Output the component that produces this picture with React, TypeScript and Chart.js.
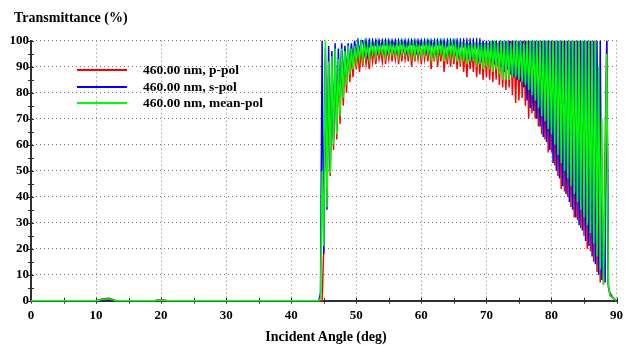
import React, { useEffect, useRef } from 'react';
import { Chart, registerables } from 'chart.js';

Chart.register(...registerables);

// Incident angle (deg) sample positions
const angles = [
  0, 10, 10.5, 11, 12, 12.5, 13, 19, 19.5, 20, 20.5, 21, 44, 44.25,
  44.5, 44.75,
  45, 45.25, 45.5, 45.75, 46, 46.25, 46.5, 46.75, 47, 47.25, 47.5, 47.75,
  48, 48.25, 48.5, 48.75, 49, 49.25, 49.5, 49.75, 50, 50.25, 50.5, 50.75,
  51, 51.25, 51.5, 51.75, 52, 52.25, 52.5, 52.75, 53, 53.25, 53.5, 53.75,
  54, 54.25, 54.5, 54.75, 55, 55.25, 55.5, 55.75, 56, 56.25, 56.5, 56.75,
  57, 57.25, 57.5, 57.75, 58, 58.25, 58.5, 58.75, 59, 59.25, 59.5, 59.75,
  60, 60.25, 60.5, 60.75, 61, 61.25, 61.5, 61.75, 62, 62.25, 62.5, 62.75,
  63, 63.25, 63.5, 63.75, 64, 64.25, 64.5, 64.75, 65, 65.25, 65.5, 65.75,
  66, 66.25, 66.5, 66.75, 67, 67.25, 67.5, 67.75, 68, 68.25, 68.5, 68.75,
  69, 69.25, 69.5, 69.75, 70, 70.25, 70.5, 70.75, 71, 71.25, 71.5, 71.75,
  72, 72.25, 72.5, 72.75, 73, 73.25, 73.5, 73.75, 74, 74.25, 74.5, 74.75,
  75, 75.25, 75.5, 75.75, 76, 76.25, 76.5, 76.75, 77, 77.25, 77.5, 77.75,
  78, 78.25, 78.5, 78.75, 79, 79.25, 79.5, 79.75, 80, 80.25, 80.5, 80.75,
  81, 81.25, 81.5, 81.75, 82, 82.25, 82.5, 82.75, 83, 83.25, 83.5, 83.75,
  84, 84.25, 84.5, 84.75, 85, 85.25, 85.5, 85.75, 86, 86.25, 86.5, 86.75,
  87, 87.25, 87.5, 87.75, 88, 88.25, 88.5, 88.75, 89, 89.25, 89.5, 89.75,
  90,
];

// Transmittance (%), p-polarisation
const pPol = [
  0, 0, 0.3, 0.8, 0.9, 0.6, 0, 0, 0.4, 0.2, 0.3, 0, 0, 0,
  0, 0,
  20, 93, 38, 86, 48, 92, 58, 95, 62, 90, 68, 96,
  75, 94, 80, 97, 84, 95, 86, 97, 89, 96, 88, 97,
  90, 98, 91, 96, 89, 98, 92, 97, 91, 98, 93, 97,
  92, 99, 91, 98, 93, 99, 92, 98, 93, 99, 91, 98,
  92, 99, 93, 98, 92, 99, 90, 98, 92, 99, 93, 98,
  91, 99, 93, 98, 92, 99, 89, 98, 92, 99, 90, 98,
  92, 99, 88, 98, 91, 99, 90, 98, 91, 99, 89, 98,
  90, 99, 88, 98, 86, 99, 89, 98, 88, 99, 86, 98,
  87, 99, 85, 99, 86, 99, 85, 99, 84, 100, 85, 99,
  83, 100, 82, 99, 81, 100, 82, 100, 79, 100, 76, 99,
  77, 100, 78, 100, 75, 100, 70, 100, 72, 100, 70, 100,
  67, 100, 64, 100, 62, 100, 57, 100, 57, 100, 52, 100,
  48, 100, 43, 100, 42, 100, 40, 100, 36, 100, 32, 100,
  31, 100, 28, 100, 25, 100, 20, 100, 19, 100, 15, 100,
  11, 80, 7, 40, 6, 60, 100, 5, 3, 2, 1, 0.5,
  0,
];

// Transmittance (%), s-polarisation
const sPol = [
  0, 0, 0.2, 0.5, 0.6, 0.4, 0, 0, 0, 0, 0, 0, 0, 0,
  3, 100,
  18, 97, 35, 98, 50, 96, 62, 99, 66, 97, 74, 99,
  82, 98, 86, 99, 90, 99, 92, 100, 94, 100, 95, 100,
  100, 96, 100, 95, 100, 96, 100, 97, 100, 96, 100, 97,
  100, 97, 100, 96, 100, 97, 100, 97, 100, 96, 100, 97,
  100, 97, 100, 96, 100, 97, 100, 97, 100, 96, 100, 97,
  100, 97, 100, 96, 100, 97, 100, 97, 100, 96, 100, 97,
  100, 97, 100, 96, 100, 96, 100, 97, 100, 96, 100, 95,
  100, 96, 100, 95, 100, 95, 100, 94, 100, 95, 100, 94,
  100, 94, 100, 93, 100, 93, 100, 92, 100, 91, 100, 92,
  100, 90, 100, 88, 100, 89, 100, 87, 100, 86, 100, 85,
  100, 84, 100, 82, 100, 77, 100, 74, 100, 73, 100, 70,
  100, 67, 100, 63, 100, 61, 100, 58, 100, 53, 100, 50,
  100, 47, 100, 44, 100, 41, 100, 38, 100, 35, 100, 32,
  100, 29, 100, 27, 100, 23, 100, 21, 100, 17, 100, 14,
  100, 10, 100, 8, 30, 7, 100, 6, 2, 1.5, 1, 0.5,
  0,
];

// Transmittance (%), mean polarisation
const meanPol = [
  0, 0, 0.2, 0.6, 0.7, 0.5, 0, 0, 0.2, 0.1, 0.1, 0, 0, 0,
  1, 50,
  21, 100, 36, 92, 49, 94, 60, 97, 64, 93, 71, 97,
  78, 96, 83, 98, 87, 97, 89, 98, 92, 98, 93, 99,
  93, 99, 94, 98, 93, 99, 95, 98, 94, 99, 95, 98,
  95, 99, 94, 99, 95, 99, 95, 98, 95, 99, 94, 99,
  95, 99, 95, 98, 95, 99, 94, 99, 94, 99, 95, 98,
  94, 99, 95, 99, 95, 99, 93, 98, 94, 99, 94, 99,
  95, 99, 92, 98, 94, 99, 94, 99, 94, 99, 92, 98,
  93, 99, 92, 99, 91, 99, 92, 99, 92, 99, 90, 99,
  91, 99, 89, 99, 90, 99, 89, 100, 88, 100, 89, 99,
  87, 100, 85, 100, 85, 100, 85, 99, 86, 100, 86, 100,
  85, 100, 84, 99, 83, 100, 81, 100, 79, 100, 77, 100,
  74, 100, 71, 100, 69, 100, 66, 100, 64, 100, 60, 100,
  56, 100, 53, 100, 50, 100, 47, 100, 44, 100, 41, 100,
  38, 100, 35, 100, 32, 100, 29, 100, 26, 100, 22, 100,
  17, 90, 12, 70, 6, 45, 95, 6, 2, 1.5, 1, 0.5,
  0,
];

const seriesLabels = ['460.00 nm, p-pol', '460.00 nm, s-pol', '460.00 nm, mean-pol'];
const seriesColors = ['#ff0000', '#0000ff', '#00ff00'];
const xMarks = [0, 5, 10, 15, 20, 25, 30, 35, 40, 45, 50, 55, 60, 65, 70, 75, 80, 85, 90];
const yMarks = [0, 5, 10, 15, 20, 25, 30, 35, 40, 45, 50, 55, 60, 65, 70, 75, 80, 85, 90, 95, 100];

const FONT = "'Liberation Serif', 'Times New Roman', serif";

const crossTicks = {
  id: 'crossTicks',
  beforeDatasetsDraw(chart: any) {
    const { ctx, scales, chartArea } = chart;
    const x = scales.x;
    const y = scales.y;
    ctx.save();
    ctx.strokeStyle = '#303030';
    ctx.lineWidth = 1;
    for (const v of xMarks) {
      const px = Math.round(x.getPixelForValue(v)) + 0.5;
      ctx.beginPath();
      ctx.moveTo(px, chartArea.bottom - 3);
      ctx.lineTo(px, chartArea.bottom + 3);
      ctx.stroke();
    }
    for (const v of yMarks) {
      const py = Math.round(y.getPixelForValue(v)) + 0.5;
      ctx.beginPath();
      ctx.moveTo(chartArea.left - 3, py);
      ctx.lineTo(chartArea.left + 3, py);
      ctx.stroke();
    }
    ctx.restore();
  },
};

export default function App() {
  const canvasRef = useRef<HTMLCanvasElement | null>(null);

  useEffect(() => {
    document.body.style.margin = '0';
    const canvas = canvasRef.current;
    if (!canvas) return;
    const seriesValues = [pPol, sPol, meanPol];
    const drawOrder = [2, 1, 0];
    const chart = new Chart(canvas, {
      type: 'line',
      data: {
        datasets: seriesValues.map((vals, k) => ({
          label: seriesLabels[k],
          data: angles.map((a, i) => ({ x: a, y: vals[i] })),
          borderColor: seriesColors[k],
          backgroundColor: seriesColors[k],
          borderWidth: 1.5,
          pointRadius: 0,
          tension: 0,
          fill: false,
          clip: 3,
          order: drawOrder[k],
        })),
      },
      options: {
        animation: false,
        responsive: false,
        devicePixelRatio: 1,
        layout: { padding: { top: 40.7, right: 9, left: 0, bottom: 0 } },
        plugins: { legend: { display: false }, tooltip: { enabled: false } },
        scales: {
          x: {
            type: 'linear',
            min: 0,
            max: 90,
            ticks: {
              stepSize: 10,
              autoSkip: false,
              maxRotation: 0,
              padding: 7,
              color: '#000',
              font: { family: FONT, size: 13, weight: 'bold' },
            },
            grid: {
              drawTicks: false,
              lineWidth: 1,
              color: (c: any) => (c.tick && c.tick.value === 0 ? 'rgba(0,0,0,0)' : '#7a7a7a'),
            },
            border: { display: true, color: '#303030', width: 2, dash: [1, 3] },
            afterFit: (s: any) => {
              s.height = 44.3;
            },
          },
          y: {
            type: 'linear',
            min: 0,
            max: 100,
            ticks: {
              stepSize: 10,
              autoSkip: false,
              padding: 2,
              color: '#000',
              font: { family: FONT, size: 13, weight: 'bold' },
            },
            grid: {
              drawTicks: false,
              lineWidth: 1,
              color: (c: any) => (c.tick && c.tick.value === 0 ? 'rgba(0,0,0,0)' : '#7a7a7a'),
            },
            border: { display: true, color: '#303030', width: 2, dash: [1, 3] },
            afterFit: (s: any) => {
              s.width = 31;
            },
          },
        },
      },
      plugins: [crossTicks],
    } as any);
    return () => chart.destroy();
  }, []);

  const textStyle: React.CSSProperties = {
    position: 'absolute',
    fontFamily: FONT,
    fontWeight: 'bold',
    fontSize: 14,
    lineHeight: '16px',
    color: '#000',
    whiteSpace: 'nowrap',
  };

  return (
    <div style={{ position: 'fixed', left: 0, top: 0, width: 630, height: 345, background: '#fff' }}>
      <canvas ref={canvasRef} width={630} height={345} style={{ display: 'block', width: 630, height: 345 }} />
      <div style={{ ...textStyle, left: 14, top: 10 }}>Transmittance (%)</div>
      <div style={{ ...textStyle, left: 0, width: 652, top: 329, textAlign: 'center' }}>Incident Angle (deg)</div>
      {seriesLabels.map((lab, k) => (
        <React.Fragment key={lab}>
          <div
            style={{
              position: 'absolute',
              left: 77,
              top: 69 + k * 16.7,
              width: 50,
              height: 2,
              background: seriesColors[k],
            }}
          />
          <div style={{ ...textStyle, fontSize: 13.5, left: 143, top: 62 + k * 16.7 }}>{lab}</div>
        </React.Fragment>
      ))}
    </div>
  );
}
